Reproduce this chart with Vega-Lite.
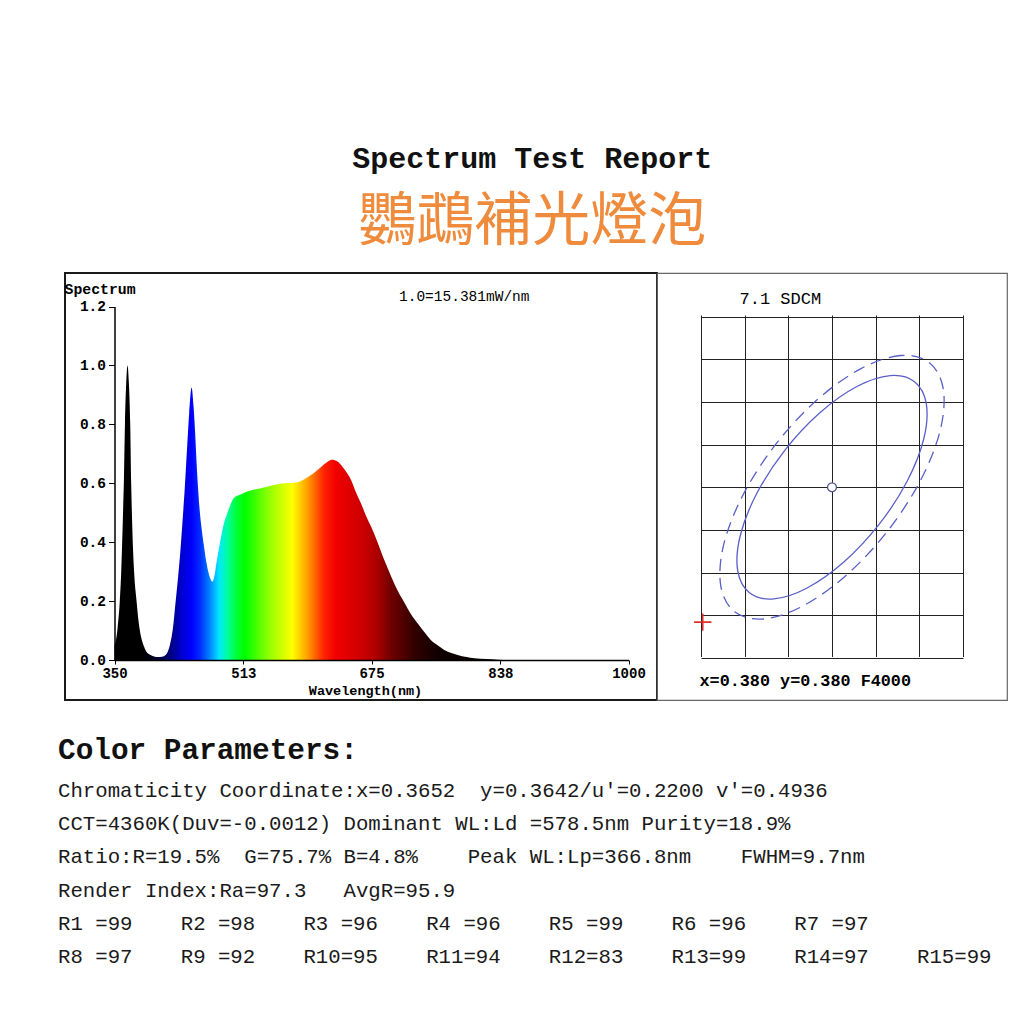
{
  "$schema": "https://vega.github.io/schema/vega-lite/v6.json",
  "background": "white",
  "padding": {"left": 57, "top": 144, "right": 0, "bottom": 0},
  "bounds": "flush",
  "spacing": 0,
  "title": {
    "text": "Spectrum Test Report",
    "subtitle": "鸚鵡補光燈泡",
    "anchor": "middle",
    "frame": "bounds",
    "font": "Liberation Mono",
    "fontSize": 30,
    "fontWeight": "bold",
    "color": "#111111",
    "subtitleFont": "Noto Sans CJK TC",
    "subtitleFontSize": 58,
    "subtitleFontWeight": "normal",
    "subtitleColor": "#EF8B3D",
    "subtitlePadding": 20,
    "offset": 20
  },
  "datasets": {
    "spectrum": [
      {"wl": 350, "v": 0.05}, {"wl": 352, "v": 0.07}, {"wl": 354, "v": 0.11}, {"wl": 356.7, "v": 0.2},
      {"wl": 358.5, "v": 0.3}, {"wl": 359.7, "v": 0.4}, {"wl": 361, "v": 0.52}, {"wl": 361.8, "v": 0.6},
      {"wl": 363.2, "v": 0.8}, {"wl": 364.8, "v": 0.94}, {"wl": 366.5, "v": 1.0}, {"wl": 368.2, "v": 0.94},
      {"wl": 369.9, "v": 0.8}, {"wl": 371.1, "v": 0.6}, {"wl": 372.2, "v": 0.48}, {"wl": 373.1, "v": 0.4},
      {"wl": 375, "v": 0.29}, {"wl": 377.9, "v": 0.2}, {"wl": 380.5, "v": 0.13}, {"wl": 383.5, "v": 0.08},
      {"wl": 386.7, "v": 0.05}, {"wl": 390, "v": 0.03}, {"wl": 395, "v": 0.018}, {"wl": 400, "v": 0.012},
      {"wl": 405, "v": 0.01}, {"wl": 410, "v": 0.011}, {"wl": 415, "v": 0.018}, {"wl": 420, "v": 0.05},
      {"wl": 424, "v": 0.11}, {"wl": 427, "v": 0.19}, {"wl": 430, "v": 0.27}, {"wl": 433, "v": 0.36},
      {"wl": 436, "v": 0.47}, {"wl": 439, "v": 0.59}, {"wl": 442, "v": 0.73}, {"wl": 444.5, "v": 0.84},
      {"wl": 447.5, "v": 0.925}, {"wl": 450, "v": 0.86}, {"wl": 452, "v": 0.77}, {"wl": 454, "v": 0.66},
      {"wl": 456, "v": 0.57}, {"wl": 458, "v": 0.5}, {"wl": 460, "v": 0.45}, {"wl": 463, "v": 0.39},
      {"wl": 466, "v": 0.335}, {"wl": 469, "v": 0.295}, {"wl": 472, "v": 0.272}, {"wl": 474, "v": 0.266},
      {"wl": 476, "v": 0.28}, {"wl": 479, "v": 0.33}, {"wl": 483.5, "v": 0.4}, {"wl": 488, "v": 0.46},
      {"wl": 492.8, "v": 0.5}, {"wl": 497, "v": 0.53}, {"wl": 501, "v": 0.55}, {"wl": 510, "v": 0.563},
      {"wl": 518, "v": 0.572}, {"wl": 526, "v": 0.578}, {"wl": 535, "v": 0.583}, {"wl": 545, "v": 0.59},
      {"wl": 556, "v": 0.597}, {"wl": 566, "v": 0.6}, {"wl": 577, "v": 0.602}, {"wl": 586, "v": 0.608},
      {"wl": 595, "v": 0.622}, {"wl": 603, "v": 0.637}, {"wl": 612, "v": 0.657}, {"wl": 619, "v": 0.672},
      {"wl": 625, "v": 0.68}, {"wl": 632, "v": 0.674}, {"wl": 640, "v": 0.65}, {"wl": 649, "v": 0.612},
      {"wl": 656, "v": 0.565}, {"wl": 662, "v": 0.53}, {"wl": 668, "v": 0.49}, {"wl": 675, "v": 0.45},
      {"wl": 683, "v": 0.397}, {"wl": 691, "v": 0.34}, {"wl": 700, "v": 0.283}, {"wl": 708, "v": 0.236},
      {"wl": 717, "v": 0.193}, {"wl": 725, "v": 0.155}, {"wl": 734, "v": 0.122}, {"wl": 742, "v": 0.094},
      {"wl": 750, "v": 0.068}, {"wl": 759, "v": 0.049}, {"wl": 767, "v": 0.034}, {"wl": 776, "v": 0.024},
      {"wl": 784, "v": 0.017}, {"wl": 795, "v": 0.01}, {"wl": 805, "v": 0.006}, {"wl": 820, "v": 0.003},
      {"wl": 835, "v": 0.001}, {"wl": 850, "v": 0}
    ],
    "ellipse": [
      {"ring": "solid", "i": 0, "x": 0.38945, "y": 0.39236}, {"ring": "solid", "i": 1, "x": 0.38666, "y": 0.39308},
      {"ring": "solid", "i": 2, "x": 0.38285, "y": 0.3918}, {"ring": "solid", "i": 3, "x": 0.37861, "y": 0.38873},
      {"ring": "solid", "i": 4, "x": 0.37459, "y": 0.38433}, {"ring": "solid", "i": 5, "x": 0.37138, "y": 0.37926},
      {"ring": "solid", "i": 6, "x": 0.36949, "y": 0.37432}, {"ring": "solid", "i": 7, "x": 0.3692, "y": 0.37023},
      {"ring": "solid", "i": 8, "x": 0.37055, "y": 0.36764}, {"ring": "solid", "i": 9, "x": 0.37334, "y": 0.36692},
      {"ring": "solid", "i": 10, "x": 0.37715, "y": 0.3682}, {"ring": "solid", "i": 11, "x": 0.38139, "y": 0.37127},
      {"ring": "solid", "i": 12, "x": 0.38541, "y": 0.37567}, {"ring": "solid", "i": 13, "x": 0.38862, "y": 0.38074},
      {"ring": "solid", "i": 14, "x": 0.39051, "y": 0.38568}, {"ring": "solid", "i": 15, "x": 0.3908, "y": 0.38977},
      {"ring": "dashed", "i": 0, "x": 0.39115, "y": 0.39459}, {"ring": "dashed", "i": 1, "x": 0.38785, "y": 0.39543},
      {"ring": "dashed", "i": 2, "x": 0.38337, "y": 0.39393}, {"ring": "dashed", "i": 3, "x": 0.37836, "y": 0.3903},
      {"ring": "dashed", "i": 4, "x": 0.37361, "y": 0.3851}, {"ring": "dashed", "i": 5, "x": 0.36983, "y": 0.37913},
      {"ring": "dashed", "i": 6, "x": 0.3676, "y": 0.37329}, {"ring": "dashed", "i": 7, "x": 0.36726, "y": 0.36848},
      {"ring": "dashed", "i": 8, "x": 0.36885, "y": 0.36541}, {"ring": "dashed", "i": 9, "x": 0.37215, "y": 0.36457},
      {"ring": "dashed", "i": 10, "x": 0.37663, "y": 0.36607}, {"ring": "dashed", "i": 11, "x": 0.38164, "y": 0.3697},
      {"ring": "dashed", "i": 12, "x": 0.38639, "y": 0.3749}, {"ring": "dashed", "i": 13, "x": 0.39017, "y": 0.38087},
      {"ring": "dashed", "i": 14, "x": 0.3924, "y": 0.38671}, {"ring": "dashed", "i": 15, "x": 0.39274, "y": 0.39152}
    ],
    "points": [
      {"kind": "reference", "x": 0.38, "y": 0.38},
      {"kind": "measured", "x": 0.3652, "y": 0.3642}
    ],
    "text": [
      {"line": 0, "col": 0, "text": "Color Parameters:"},
      {"line": 1, "col": 0, "text": "Chromaticity Coordinate:x=0.3652 \u00a0y=0.3642/u'=0.2200 v'=0.4936"},
      {"line": 2, "col": 0, "text": "CCT=4360K(Duv=-0.0012) Dominant WL:Ld =578.5nm Purity=18.9%"},
      {"line": 3, "col": 0, "text": "Ratio:R=19.5% \u00a0G=75.7% B=4.8% \u00a0\u00a0\u00a0Peak WL:Lp=366.8nm \u00a0\u00a0\u00a0FWHM=9.7nm"},
      {"line": 4, "col": 0, "text": "Render Index:Ra=97.3 \u00a0\u00a0AvgR=95.9"},
      {"line": 5, "col": 0, "text": "R1 =99"}, {"line": 5, "col": 1, "text": "R2 =98"},
      {"line": 5, "col": 2, "text": "R3 =96"}, {"line": 5, "col": 3, "text": "R4 =96"},
      {"line": 5, "col": 4, "text": "R5 =99"}, {"line": 5, "col": 5, "text": "R6 =96"},
      {"line": 5, "col": 6, "text": "R7 =97"},
      {"line": 6, "col": 0, "text": "R8 =97"}, {"line": 6, "col": 1, "text": "R9 =92"},
      {"line": 6, "col": 2, "text": "R10=95"}, {"line": 6, "col": 3, "text": "R11=94"},
      {"line": 6, "col": 4, "text": "R12=83"}, {"line": 6, "col": 5, "text": "R13=99"},
      {"line": 6, "col": 6, "text": "R14=97"}, {"line": 6, "col": 7, "text": "R15=99"}
    ]
  },
  "hconcat": [
    {
      "width": 592,
      "height": 427,
      "view": {"stroke": "#1a1a1a", "strokeWidth": 2},
      "title": {
        "text": "1.0=15.381mW/nm",
        "anchor": "start",
        "frame": "group",
        "dx": 334,
        "offset": -42,
        "baseline": "alphabetic",
        "font": "Liberation Mono",
        "fontSize": 14.5,
        "fontWeight": "normal",
        "color": "#000000"
      },
      "layer": [
        {
          "data": {"name": "spectrum"},
          "mark": {
            "type": "area",
            "interpolate": "monotone",
            "color": {
              "gradient": "linear",
              "x1": 0, "y1": 0, "x2": 1, "y2": 0,
              "stops": [
                {"offset": 0, "color": "#000000"},
                {"offset": 0.07, "color": "#000000"},
                {"offset": 0.1, "color": "#000022"},
                {"offset": 0.14, "color": "#00007a"},
                {"offset": 0.17, "color": "#0000d0"},
                {"offset": 0.195, "color": "#0000ff"},
                {"offset": 0.215, "color": "#0028ff"},
                {"offset": 0.24, "color": "#0080ff"},
                {"offset": 0.265, "color": "#00e8ff"},
                {"offset": 0.285, "color": "#00ffa0"},
                {"offset": 0.31, "color": "#00ff30"},
                {"offset": 0.33, "color": "#00ff00"},
                {"offset": 0.39, "color": "#90ff00"},
                {"offset": 0.45, "color": "#ffff00"},
                {"offset": 0.49, "color": "#ff9900"},
                {"offset": 0.53, "color": "#ff2200"},
                {"offset": 0.56, "color": "#f00000"},
                {"offset": 0.62, "color": "#d00000"},
                {"offset": 0.66, "color": "#b00000"},
                {"offset": 0.7, "color": "#700000"},
                {"offset": 0.76, "color": "#300000"},
                {"offset": 0.82, "color": "#100000"},
                {"offset": 1, "color": "#000000"}
              ]
            }
          },
          "encoding": {
            "x": {
              "field": "wl",
              "type": "quantitative",
              "scale": {"domain": [350, 1000], "range": [49.5, 563.5], "nice": false, "zero": false},
              "axis": {
                "values": [350, 513, 675, 838, 1000],
                "format": "d",
                "orient": "bottom",
                "offset": -40,
                "zindex": 1,
                "grid": false,
                "labelFlush": false,
                "labelOverlap": false,
                "tickSize": 4,
                "tickColor": "#000000",
                "domainColor": "#000000",
                "domainWidth": 1.5,
                "labelPadding": 2,
                "labelFont": "Liberation Mono",
                "labelFontSize": 14,
                "labelFontWeight": "bold",
                "labelColor": "#000000",
                "title": "Wavelength(nm)",
                "titleFont": "Liberation Mono",
                "titleFontSize": 13.5,
                "titleFontWeight": "bold",
                "titleColor": "#000000",
                "titleX": 300,
                "titleY": 34,
                "titleAlign": "center",
                "titleBaseline": "alphabetic"
              }
            },
            "y": {
              "field": "v",
              "type": "quantitative",
              "scale": {"domain": [0, 1.2], "range": [387, 33.6], "nice": false},
              "axis": {
                "values": [0, 0.2, 0.4, 0.6, 0.8, 1.0, 1.2],
                "format": ".1f",
                "orient": "left",
                "offset": -49.5,
                "zindex": 1,
                "grid": false,
                "labelOverlap": false,
                "tickSize": 6,
                "tickColor": "#000000",
                "domainColor": "#000000",
                "domainWidth": 1.5,
                "labelPadding": 3,
                "labelFont": "Liberation Mono",
                "labelFontSize": 14.5,
                "labelFontWeight": "bold",
                "labelColor": "#000000",
                "title": "Spectrum",
                "titleFont": "Liberation Mono",
                "titleFontSize": 14.8,
                "titleFontWeight": "bold",
                "titleColor": "#000000",
                "titleAngle": 0,
                "titleAlign": "left",
                "titleBaseline": "alphabetic",
                "titleX": -50.5,
                "titleY": 20.5
              }
            }
          }
        },
        {
          "data": {"name": "text"},
          "encoding": {
            "x": {"field": "col", "type": "quantitative", "scale": {"domain": [0, 7], "range": [-7, 852], "nice": false, "zero": false}, "axis": null},
            "y": {"field": "line", "type": "quantitative", "scale": {"domain": [0, 6], "range": [490.3, 690.3], "nice": false, "zero": false}, "axis": null},
            "text": {"field": "text"}
          },
          "layer": [
            {
              "transform": [{"filter": "datum.line == 0"}],
              "mark": {"type": "text", "align": "left", "baseline": "alphabetic", "font": "Liberation Mono", "fontSize": 29.4, "fontWeight": "bold", "color": "#111111", "dy": -4}
            },
            {
              "transform": [{"filter": "datum.line > 0"}],
              "mark": {"type": "text", "align": "left", "baseline": "alphabetic", "font": "Liberation Mono", "fontSize": 20.7, "fontWeight": "normal", "color": "#1a1a1a"}
            }
          ]
        }
      ],
      "resolve": {"scale": {"x": "independent", "y": "independent"}}
    },
    {
      "width": 350,
      "height": 427,
      "view": {"stroke": "#666666", "strokeWidth": 1.2},
      "encoding": {
        "x": {
          "field": "x",
          "type": "quantitative",
          "scale": {"domain": [0.365, 0.395], "range": [44, 306], "nice": false, "zero": false},
          "axis": {
            "values": [0.365, 0.37, 0.375, 0.38, 0.385, 0.39, 0.395],
            "grid": true,
            "gridColor": "#222222",
            "gridOpacity": 1,
            "gridWidth": 1,
            "labels": false,
            "ticks": false,
            "domain": false,
            "title": "x=0.380 y=0.380 F4000",
            "titleFont": "Liberation Mono",
            "titleFontSize": 16.8,
            "titleFontWeight": "bold",
            "titleColor": "#000000",
            "titleX": 42,
            "titleY": -15,
            "titleAlign": "left",
            "titleBaseline": "alphabetic"
          }
        },
        "y": {
          "field": "y",
          "type": "quantitative",
          "scale": {"domain": [0.36, 0.4], "range": [385, 43.5], "nice": false, "zero": false},
          "axis": {
            "values": [0.36, 0.365, 0.37, 0.375, 0.38, 0.385, 0.39, 0.395, 0.4],
            "grid": true,
            "gridColor": "#222222",
            "gridOpacity": 1,
            "gridWidth": 1,
            "labels": false,
            "ticks": false,
            "domain": false,
            "title": "7.1 SDCM",
            "titleFont": "Liberation Mono",
            "titleFontSize": 17,
            "titleFontWeight": "normal",
            "titleColor": "#000000",
            "titleAngle": 0,
            "titleX": 82,
            "titleY": 30,
            "titleAlign": "left",
            "titleBaseline": "alphabetic"
          }
        }
      },
      "layer": [
        {
          "data": {"name": "ellipse"},
          "transform": [{"filter": "datum.ring == 'dashed'"}],
          "mark": {"type": "line", "interpolate": "cardinal-closed", "color": "#5a5fc8", "strokeWidth": 1.3, "strokeDash": [12, 7]},
          "encoding": {"order": {"field": "i", "type": "quantitative"}}
        },
        {
          "data": {"name": "ellipse"},
          "transform": [{"filter": "datum.ring == 'solid'"}],
          "mark": {"type": "line", "interpolate": "cardinal-closed", "color": "#5a5fc8", "strokeWidth": 1.3},
          "encoding": {"order": {"field": "i", "type": "quantitative"}}
        },
        {
          "data": {"name": "points"},
          "transform": [{"filter": "datum.kind == 'reference'"}],
          "mark": {"type": "point", "shape": "circle", "size": 80, "filled": true, "fill": "#ffffff", "stroke": "#4a4f99", "strokeWidth": 1.3, "opacity": 1},
          "encoding": {}
        },
        {
          "data": {"name": "points"},
          "transform": [{"filter": "datum.kind == 'measured'"}],
          "mark": {"type": "point", "shape": "M-1,0L1,0M0,-1L0,1", "size": 300, "filled": false, "stroke": "#e0302a", "strokeWidth": 1.6, "opacity": 1},
          "encoding": {}
        }
      ]
    }
  ],
  "config": {
    "view": {"stroke": null},
    "font": "Liberation Mono"
  }
}
